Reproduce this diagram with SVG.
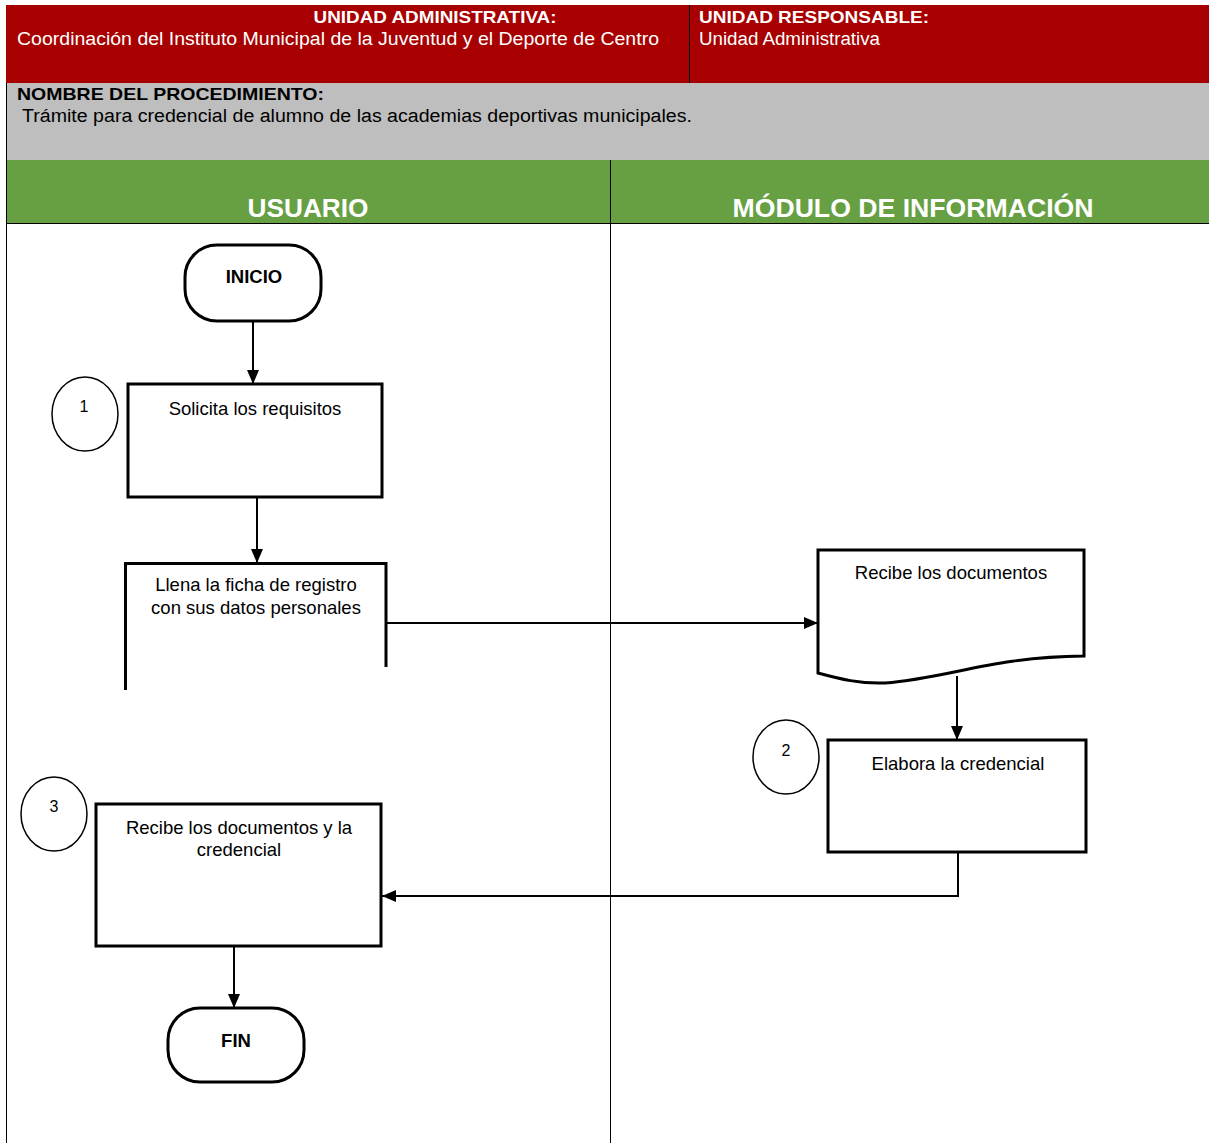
<svg xmlns="http://www.w3.org/2000/svg" width="1209" height="1143" viewBox="0 0 1209 1143">
<style>
.hd{font-family:"Liberation Sans",Arial,sans-serif;fill:#fff;}
.b{font-weight:bold;}
.t{font-family:"Liberation Sans",Arial,sans-serif;font-size:18.5px;fill:#000;text-anchor:middle;}
.n{font-family:"Liberation Sans",Arial,sans-serif;font-size:16px;fill:#000;text-anchor:middle;}
.box{fill:#fff;stroke:#000;stroke-width:3;}
.circ{fill:#fff;stroke:#000;stroke-width:1.5;}
.con{fill:none;stroke:#000;stroke-width:2;}
.lane{stroke:#000;stroke-width:1;fill:none;}
</style>
<defs>
<marker id="ah" viewBox="0 0 10 10" refX="10" refY="5" markerWidth="8" markerHeight="8" markerUnits="userSpaceOnUse" orient="auto">
<path d="M0,0 L10,5 L0,10 z" fill="#000"/>
</marker>
<marker id="ah2" viewBox="0 0 14 12" refX="14" refY="6" markerWidth="14" markerHeight="12" markerUnits="userSpaceOnUse" orient="auto">
<path d="M0,0 L14,6 L0,12 z" fill="#000"/>
</marker>
</defs>
<rect width="1209" height="1143" fill="#fff"/>
<g id="header">
<rect x="6" y="5" width="1203" height="78" fill="#A80000"/>
<line x1="689.5" y1="5" x2="689.5" y2="83" stroke="#000" stroke-width="1"/>
<text class="hd b" x="435" y="23" font-size="17" text-anchor="middle" textLength="243" lengthAdjust="spacingAndGlyphs">UNIDAD ADMINISTRATIVA:</text>
<text class="hd" x="17" y="45" font-size="18" textLength="642" lengthAdjust="spacingAndGlyphs">Coordinación del Instituto Municipal de la Juventud y el Deporte de Centro</text>
<text class="hd b" x="699" y="23" font-size="17" textLength="230" lengthAdjust="spacingAndGlyphs">UNIDAD  RESPONSABLE:</text>
<text class="hd" x="699" y="45" font-size="18" textLength="181" lengthAdjust="spacingAndGlyphs">Unidad Administrativa</text>
<rect x="6" y="83" width="1203" height="77" fill="#BEBEBE"/>
<text x="17" y="100" font-family="Liberation Sans,Arial,sans-serif" font-size="17" font-weight="bold" fill="#000" textLength="307" lengthAdjust="spacingAndGlyphs">NOMBRE DEL PROCEDIMIENTO:</text>
<text x="22" y="122" font-family="Liberation Sans,Arial,sans-serif" font-size="18" fill="#000" textLength="670" lengthAdjust="spacingAndGlyphs">Trámite para credencial de alumno de las academias deportivas municipales.</text>
</g>
<g id="lanes">
<rect x="6" y="160" width="1203" height="63" fill="#66A042"/>
<line class="lane" x1="6" y1="223.5" x2="1209" y2="223.5"/>
<line class="lane" x1="610.5" y1="160" x2="610.5" y2="1143"/>
<line class="lane" x1="6.5" y1="83" x2="6.5" y2="1143"/>
<text class="hd b" x="308" y="217" font-size="26" text-anchor="middle" textLength="121" lengthAdjust="spacingAndGlyphs">USUARIO</text>
<text class="hd b" x="913" y="217" font-size="26" text-anchor="middle" textLength="361" lengthAdjust="spacingAndGlyphs">MÓDULO DE INFORMACIÓN</text>
</g>
<g id="connectors">
<line class="con" x1="253" y1="321" x2="253" y2="384" marker-end="url(#ah2)"/>
<line class="con" x1="257" y1="497" x2="257" y2="563" marker-end="url(#ah2)"/>
<line class="con" x1="386" y1="623" x2="818" y2="623" marker-end="url(#ah2)"/>
<line class="con" x1="957" y1="676" x2="957" y2="740" marker-end="url(#ah2)"/>
<polyline class="con" points="958,852 958,896 382,896" stroke-width="2.5" marker-end="url(#ah2)"/>
<line class="con" x1="234" y1="946" x2="234" y2="1008" marker-end="url(#ah2)"/>
</g>
<g id="inicio">
<rect class="box" x="185" y="245" width="136" height="76" rx="32" ry="32"/>
<text class="t b" x="254" y="283">INICIO</text>
</g>
<g id="step1">
<ellipse class="circ" cx="85" cy="414" rx="33" ry="37"/>
<text class="n" x="84" y="412">1</text>
<rect class="box" x="128" y="384" width="254" height="113"/>
<text class="t" x="255" y="415">Solicita los requisitos</text>
</g>
<g id="llena">
<path d="M125.5,690 L125.5,563.5 L386,563.5 L386,667" fill="none" stroke="#000" stroke-width="3"/>
<text class="t" x="256" y="591">Llena la ficha de registro</text>
<text class="t" x="256" y="614">con sus datos personales</text>
</g>
<g id="recibe-docs">
<path class="box" d="M818,550 L1084,550 L1084,656 C990,657 950,678 885,683 C860,684 840,679 818,673 Z"/>
<text class="t" x="951" y="579">Recibe los documentos</text>
</g>
<g id="step2">
<ellipse class="circ" cx="786" cy="757" rx="33" ry="37"/>
<text class="n" x="786" y="756">2</text>
<rect class="box" x="828" y="740" width="258" height="112"/>
<text class="t" x="958" y="770">Elabora la credencial</text>
</g>
<g id="step3">
<ellipse class="circ" cx="54" cy="814" rx="33" ry="37"/>
<text class="n" x="54" y="812">3</text>
<rect class="box" x="96" y="804" width="285" height="142"/>
<text class="t" x="239" y="834">Recibe los documentos y la</text>
<text class="t" x="239" y="856">credencial</text>
</g>
<g id="fin">
<rect class="box" x="168" y="1008" width="136" height="74" rx="32" ry="32"/>
<text class="t b" x="236" y="1047">FIN</text>
</g>
</svg>
